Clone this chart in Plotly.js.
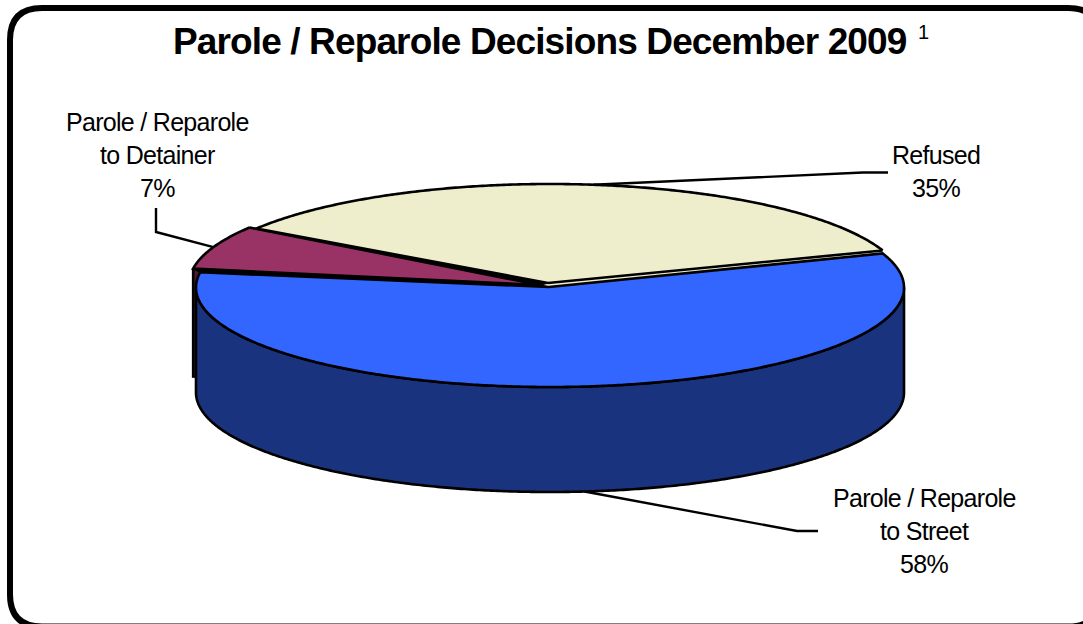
<!DOCTYPE html>
<html>
<head>
<meta charset="utf-8">
<script src="https://cdn.plot.ly/plotly-3.0.0.min.js"></script>
<style>
html,body{margin:0;padding:0;background:#fff;overflow:hidden}
#chart{width:1083px;height:624px}
.annotation-text{letter-spacing:-0.7px}
.gtitle{letter-spacing:-0.87px}
</style>
</head>
<body>
<div id="chart"></div>
<script>
// Data
const titleText = 'Parole / Reparole Decisions December 2009';
const footnoteMark = '1';
const categories = ['Refused', 'Parole / Reparole\nto Detainer', 'Parole / Reparole\nto Street'];
const shares = [35, 7, 58];

// Colours
const topColors = ['#EEEECC', '#993366', '#3366FF'];
const sideColors = ['#77775F', '#4C1933', '#19337F'];

// Projection of the tilted pie onto the page
const CX = 550, CY = 285, RX = 354, DEPTH = 105;
const START_ANGLE = 20;
const offsets = [[0, 0], [-7, -1], [0, 2.5]];
const ry = [101, 101, 99.5];
const apexShift = [[-2, -2], [-3, 1], [-1, -0.5]];

const rad = d => d * Math.PI / 180;
const rim = (i, t, drop = 0) => [
  CX + offsets[i][0] + RX * Math.cos(rad(t)),
  CY + offsets[i][1] - ry[i] * Math.sin(rad(t)) + drop
];
const apex = (i, drop = 0) => [CX + offsets[i][0] + apexShift[i][0], CY + offsets[i][1] + apexShift[i][1] + drop];

// Slice angle limits come from the values
const total = shares.reduce((a, b) => a + b, 0);
let cursor = START_ANGLE;
const spans = shares.map(v => {
  const s = cursor, e = cursor + v / total * 360;
  cursor = e;
  return [s, e];
});
const arc = (i, a, b, drop = 0) => {
  const pts = [], n = Math.max(2, Math.ceil(Math.abs(b - a) * 2));
  for (let k = 0; k <= n; k++) pts.push(rim(i, a + (b - a) * k / n, drop));
  return pts;
};

const LINE = 2.6;
const poly = (pts, fill, width = LINE, lineColor = '#000') => ({
  type: 'scatter', mode: 'lines', hoverinfo: 'skip', showlegend: false,
  x: pts.map(p => p[0]).concat([pts[0][0]]),
  y: pts.map(p => p[1]).concat([pts[0][1]]),
  fill: 'toself', fillcolor: fill,
  line: { color: lineColor, width: width, simplify: false }
});

const [R, D, S] = [0, 1, 2];
const traces = [];

// Detainer radial wall, visible as a sliver left of the street slice
const dEnd = spans[D][1];
traces.push(poly([rim(D, dEnd), apex(D), apex(D, DEPTH + 3), rim(D, dEnd, 108)], sideColors[D]));

// Street outer wall: only the front half of its rim (left extreme to right extreme)
const wallTop = arc(S, 180, 360);
const wallBottom = arc(S, 360, 180, DEPTH);
traces.push(poly(wallTop.concat(wallBottom), sideColors[S]));

// Seams between the slices
traces.push(poly([rim(R, spans[R][0]), apex(R), apex(S), rim(S, spans[S][1])], topColors[R], 0, 'rgba(0,0,0,0)'));
traces.push(poly([rim(R, spans[R][1]), apex(R), apex(D), rim(D, spans[D][0])], '#000', 1.6, '#000'));
traces.push(poly([rim(D, spans[D][1]), apex(D), apex(S), rim(S, spans[S][0])], '#000', 1.6, '#000'));

// Top faces
const faceOrder = [D, R, S];
faceOrder.forEach(i => {
  traces.push(poly(arc(i, spans[i][0], spans[i][1]).concat([apex(i)]), topColors[i]));
});

// Leader lines: each starts on the rim at the slice's middle angle
const mid = i => (spans[i][0] + spans[i][1]) / 2;
const leader = pts => ({
  type: 'scatter', mode: 'lines', hoverinfo: 'skip', showlegend: false,
  x: pts.map(p => p[0]), y: pts.map(p => p[1]),
  line: { color: '#000', width: 2.4 }
});
const leaders = [
  leader([rim(R, mid(R)), [863, 172.5], [888, 172.5]]),
  leader([rim(D, mid(D)), [156, 232], [156, 208]]),
  leader([rim(S, mid(S), DEPTH), [797, 531], [818, 531]])
];

// Label text, one annotation per line for the reference's line spacing
const labelCentres = [[936, 155], [157, 122], [924, 498]];
const LINE_GAP = 33;
const annotations = [];
categories.forEach((c, i) => {
  const lines = c.split('\n').concat([shares[i] + '%']);
  lines.forEach((t, j) => annotations.push({
    xref: 'x', yref: 'y', x: labelCentres[i][0], y: labelCentres[i][1] + j * LINE_GAP,
    text: t, showarrow: false, xanchor: 'center', yanchor: 'middle',
    font: { family: 'Liberation Sans, Arial, sans-serif', size: 25, color: '#000' }
  }));
});
annotations.push({
  xref: 'x', yref: 'y', x: 923, y: 32, text: footnoteMark, showarrow: false,
  xanchor: 'center', yanchor: 'middle',
  font: { family: 'Liberation Sans, Arial, sans-serif', size: 20, color: '#000' }
});

// Rounded frame, running off the bottom and right of the page
const L = 10, T = 8, Rt = 1100, B = 626.6, C = 32;
const frame = {
  type: 'path', xref: 'x', yref: 'y', layer: 'below',
  path: `M ${L + C} ${T} L ${Rt - C} ${T} Q ${Rt} ${T} ${Rt} ${T + C} L ${Rt} ${B - C} Q ${Rt} ${B} ${Rt - C} ${B} L ${L + C} ${B} Q ${L} ${B} ${L} ${B - C} L ${L} ${T + C} Q ${L} ${T} ${L + C} ${T} Z`,
  line: { color: '#000', width: 6 }, fillcolor: '#fff'
};

const layout = {
  width: 1083, height: 624,
  margin: { l: 0, r: 0, t: 0, b: 0 },
  paper_bgcolor: '#fff', plot_bgcolor: 'rgba(0,0,0,0)',
  showlegend: false,
  title: {
    text: titleText,
    xref: 'paper', yref: 'paper', x: 173 / 1083, xanchor: 'left',
    y: 1 - 41 / 624, yanchor: 'middle',
    font: { family: 'Liberation Sans, Arial, sans-serif', size: 37, weight: 700, color: '#000' }
  },
  xaxis: { range: [0, 1083], visible: false, fixedrange: true },
  yaxis: { range: [624, 0], visible: false, fixedrange: true },
  shapes: [frame],
  annotations: annotations
};

Plotly.newPlot('chart', leaders.concat(traces), layout, { displayModeBar: false, staticPlot: true });
</script>
</body>
</html>
